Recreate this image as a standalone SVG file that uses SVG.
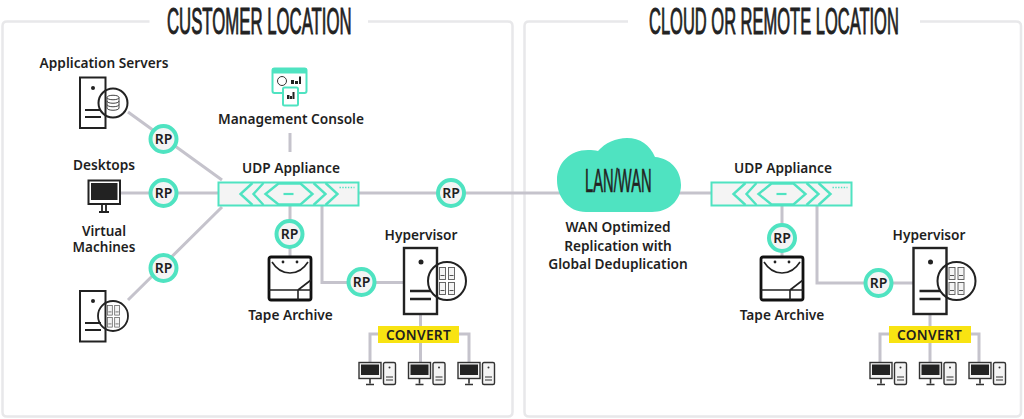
<svg xmlns="http://www.w3.org/2000/svg" xmlns:xlink="http://www.w3.org/1999/xlink" width="1024" height="419" viewBox="0 0 1024 419">
<style>
.panel{fill:none;stroke:#e8e8ea;stroke-width:2.5}
.conn{fill:none;stroke:#c5c3cc;stroke-width:3}
.t{font-family:"Noto Sans","Liberation Sans",sans-serif;font-weight:600;font-size:13.7px;fill:#1f1f1f;text-anchor:middle}
.title{font-family:"Liberation Sans",sans-serif;font-size:37.5px;fill:#222;stroke:#222;stroke-width:1}
.k{fill:none;stroke:#222}
.rpc{fill:#f4f4f4;stroke:#4fe3c1;stroke-width:4}
.teal{fill:none;stroke:#4fe3c1;stroke-width:2.4}
</style>
<defs>
<g id="rp"><circle r="13" class="rpc"/><text y="5" class="t" style="font-size:14px">RP</text></g>
<g id="appliance">
<rect x="0" y="0" width="140" height="23" fill="#f4f4f4" stroke="#4fe3c1" stroke-width="2"/>
<path class="teal" d="M34 0.5 22 11.5 34 22.5M45 0.5 35 11.500 45 22.5M60 1 47 11.500 60 22H82L94 11.500 82 1ZM95 0.5 107 11.500 95 22.5M107 0.5 119 11.500 107 22.5"/>
<path d="M65 11.500H75" stroke="#4fe3c1" stroke-width="2.2"/>
<path d="M121 5H136" stroke="#4fe3c1" stroke-width="1.3" stroke-dasharray="1.4 1.4"/>
</g>
<g id="vms">
<g fill="#f4f4f4" stroke="#555" stroke-width="0.9">
<rect x="0" y="0" width="6" height="12"/><rect x="9" y="0" width="6" height="12"/><rect x="0" y="15" width="6" height="12"/><rect x="9" y="15" width="6" height="12"/>
</g>
<path stroke="#555" stroke-width="1" d="M1 8H5M10 8H14M1 23H5M10 23H14"/>
</g>
<g id="bigserver">
<rect x="0" y="0" width="33" height="66" fill="#fff" class="k" stroke-width="2.4"/>
<circle cx="17" cy="14" r="2.5" fill="#222"/>
<path class="k" stroke-width="2.6" d="M6 43H27M6 51H27"/>
<circle cx="43" cy="33" r="19" fill="#f4f4f4" class="k" stroke-width="2"/>
<use xlink:href="#vms" transform="translate(35.500,19.500)"/>
</g>
<g id="pc">
<rect x="1" y="1" width="22" height="16" fill="#f4f4f4" stroke="#333" stroke-width="1.4"/>
<rect x="3" y="3" width="18" height="10.500" fill="#222"/>
<path d="M12 17V22M8 23H16" stroke="#333" stroke-width="1.6"/>
<rect x="25.500" y="1" width="12" height="22" rx="1.500" fill="#f4f4f4" stroke="#333" stroke-width="1.4"/>
<circle cx="31.500" cy="6" r="1" fill="#333"/>
<path d="M28 15.500H35M28 18.500H35" stroke="#333" stroke-width="1.2"/>
</g>
<g id="tape">
<rect x="0" y="0" width="42" height="43" rx="2" fill="#fff" stroke="#111" stroke-width="2.8"/>
<path class="k" stroke-width="1.6" d="M3 5C8 13 15 16 21 16C27 16 34 13 39 5M0 33H42M29 33V43M29 33 42 23"/>
<circle cx="14" cy="5" r="1.400" fill="#222"/><circle cx="28" cy="5" r="1.400" fill="#222"/>
</g>
</defs>
<g id="panels">
<path class="panel" d="M149.500 21.500H7Q2.500 21.500 2.500 26V412Q2.500 416.500 7 416.500H508Q512.500 416.500 512.500 412V26Q512.500 21.500 508 21.500H368"/>
<path class="panel" d="M628 21.500H529Q524.500 21.500 524.500 26V412Q524.500 416.500 529 416.500H1016Q1021 416.500 1021 412V26Q1021 21.500 1016 21.500H920"/>
</g>
<g id="connectors">
<path class="conn" d="M128 112 222 180M120 193H220M128 300 222 207"/>
<path class="conn" d="M290 133V152M290 205V258M322 205V282.500H404M358 193H712"/>
<path class="conn" d="M420.500 314V363M378 334H370V363M459 334H469V363"/>
<path class="conn" d="M782 205V258M817 205V283H914M930 314V363M889 334H880V363M971 334H979V363"/>
</g>
<g id="title-customer"><text class="title" transform="translate(167,34) scale(.447,1)">CUSTOMER LOCATION</text></g>
<g id="title-cloud"><text class="title" transform="translate(649,34) scale(.44,1)">CLOUD OR REMOTE LOCATION</text></g>
<g id="app-servers">
<text class="t" x="104" y="68">Application Servers</text>
<rect x="80" y="77.500" width="25.500" height="50.500" fill="#fff" class="k" stroke-width="2"/>
<circle cx="93" cy="88" r="2" fill="#222"/>
<path class="k" stroke-width="2.200" d="M85 110H101M85 117H101"/>
<circle cx="113" cy="103" r="14.500" fill="#f4f4f4" class="k" stroke-width="2"/>
<path fill="none" stroke="#444" stroke-width="1" d="M107 97.500C107 94.500 119 94.500 119 97.500V108C119 111 107 111 107 108ZM107 97.500C107 100.500 119 100.500 119 97.500M107 101C107 104 119 104 119 101M107 104.500C107 107.500 119 107.500 119 104.500"/>
</g>
<g id="desktops">
<text class="t" x="104" y="170">Desktops</text>
<rect x="88.500" y="180.500" width="31.500" height="23.500" fill="#f4f4f4" class="k" stroke-width="2"/>
<rect x="91" y="183" width="26.500" height="17" fill="#222"/>
<path class="k" stroke-width="1.800" d="M102 204V211M106 204V211M99 212H109"/>
</g>
<g id="virtual-machines">
<text class="t" x="104" y="236" style="font-size:13.5px">Virtual</text>
<text class="t" x="104" y="252" style="font-size:13.5px">Machines</text>
<rect x="80" y="291" width="25.500" height="50.500" fill="#fff" class="k" stroke-width="2"/>
<circle cx="93" cy="301" r="2" fill="#222"/>
<path class="k" stroke-width="2.200" d="M85 323H101M85 330H101"/>
<circle cx="113" cy="316" r="15" fill="#f4f4f4" class="k" stroke-width="1.800"/>
<use xlink:href="#vms" transform="translate(107.500,305.500) scale(.8)"/>
</g>
<g id="rp-1"><use xlink:href="#rp" x="163.500" y="139"/></g>
<g id="rp-2"><use xlink:href="#rp" x="163.500" y="193"/></g>
<g id="rp-3"><use xlink:href="#rp" x="163.500" y="268"/></g>
<g id="rp-4"><use xlink:href="#rp" x="289.500" y="234"/></g>
<g id="rp-5"><use xlink:href="#rp" x="361.500" y="282"/></g>
<g id="rp-6"><use xlink:href="#rp" x="451" y="193"/></g>
<g id="rp-7"><use xlink:href="#rp" x="782" y="238"/></g>
<g id="rp-8"><use xlink:href="#rp" x="878.500" y="283"/></g>
<g id="management-console">
<rect x="272.500" y="68.500" width="34" height="24.500" rx="2" fill="#fff" stroke="#4fe3c1" stroke-width="2"/>
<rect x="272" y="68" width="35" height="5.500" rx="1.500" fill="#4fe3c1"/>
<circle cx="282" cy="81" r="4.500" fill="#fff" stroke="#333" stroke-width="1"/>
<path fill="#222" d="M291 80H294V84H291ZM295 81H298V84H295ZM299 76.500H301V84H299Z"/>
<rect x="283" y="87.500" width="15" height="18" rx="1.500" fill="#fff" stroke="#4fe3c1" stroke-width="2"/>
<path fill="#222" d="M287 95H289.500V99H287ZM290 96H292V99H290ZM292.500 92H294.500V99H292.500Z"/>
<text class="t" x="291" y="124">Management Console</text>
</g>
<g id="udp-left">
<text class="t" x="291" y="173">UDP Appliance</text>
<use xlink:href="#appliance" x="218.500" y="182.500"/>
</g>
<g id="tape-left">
<use xlink:href="#tape" x="269" y="257"/>
<text class="t" x="290.500" y="320">Tape Archive</text>
</g>
<g id="hypervisor-left">
<text class="t" x="421" y="240">Hypervisor</text>
<use xlink:href="#bigserver" x="404" y="248"/>
</g>
<g id="convert-left">
<rect x="378" y="326" width="81" height="17" fill="#f8e312"/>
<text class="t" x="418.500" y="340" style="letter-spacing:.3px">CONVERT</text>
</g>
<g id="pcs-left">
<use xlink:href="#pc" x="358" y="361.500"/><use xlink:href="#pc" x="407.500" y="361.500"/><use xlink:href="#pc" x="457" y="361.500"/>
</g>
<g id="cloud">
<path fill="#4fe3c1" d="M586 212C568 212 557 197 557 180C557 163 570 150 588 150C592 150 595 150 598 151C605 143 616 138 627 138C640 138 650 145 655 157C670 158 681 170 681 185C681 201 668 212 652 212Z"/>
<text transform="translate(585,192) scale(.447,1)" font-family="Liberation Sans,sans-serif" font-size="33" fill="#222" stroke="#222" stroke-width=".6">LAN/WAN</text>
<text class="t" x="618" y="232">WAN Optimized</text>
<text class="t" x="618" y="251">Replication with</text>
<text class="t" x="618" y="269">Global Deduplication</text>
</g>
<g id="udp-right">
<text class="t" x="783" y="173">UDP Appliance</text>
<use xlink:href="#appliance" x="711.500" y="182.500"/>
</g>
<g id="tape-right">
<use xlink:href="#tape" x="761" y="257"/>
<text class="t" x="782" y="320">Tape Archive</text>
</g>
<g id="hypervisor-right">
<text class="t" x="929" y="240">Hypervisor</text>
<use xlink:href="#bigserver" x="913.500" y="248"/>
</g>
<g id="convert-right">
<rect x="889" y="326" width="82" height="17" fill="#f8e312"/>
<text class="t" x="929.500" y="340" style="letter-spacing:.3px">CONVERT</text>
</g>
<g id="pcs-right">
<use xlink:href="#pc" x="869" y="361.500"/><use xlink:href="#pc" x="918.500" y="361.500"/><use xlink:href="#pc" x="968" y="361.500"/>
</g>
</svg>
